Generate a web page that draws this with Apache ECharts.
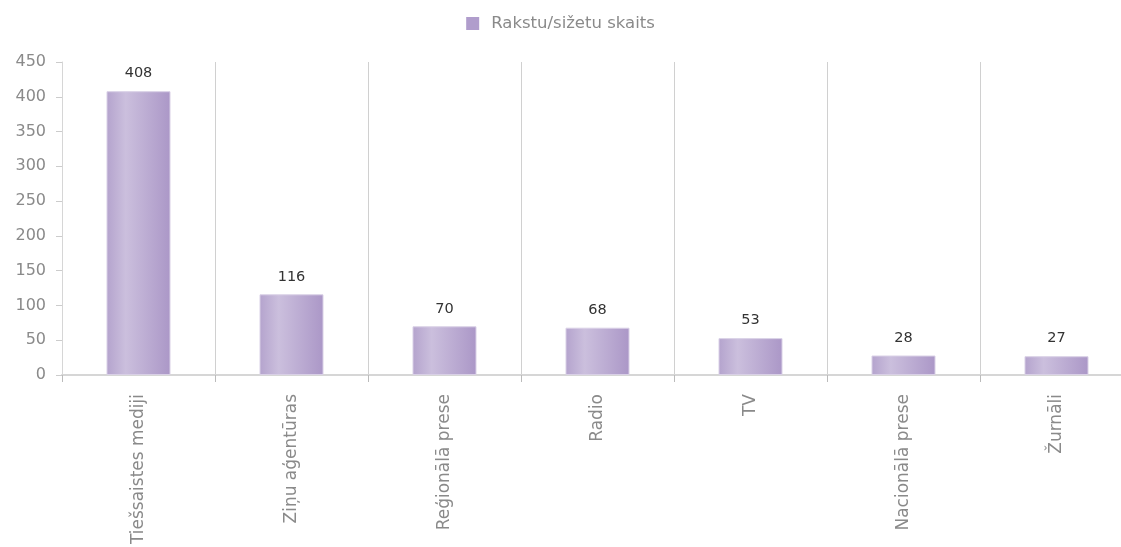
<!DOCTYPE html>
<html>
<head>
<meta charset="utf-8">
<script src="https://cdn.jsdelivr.net/npm/echarts@6/dist/echarts.min.js"></script>
<style>
html,body{margin:0;padding:0;background:#fff;}
#chart{width:1121px;height:547px;}
</style>
</head>
<body>
<div id="chart"></div>
<script>
// dati
var categories = ['Tiešsaistes mediji', 'Ziņu aģentūras', 'Reģionālā prese', 'Radio', 'TV', 'Nacionālā prese', 'Žurnāli']
var values = [408, 116, 70, 68, 53, 28, 27]
var seriesName = 'Rakstu/sižetu skaits'

var FONT = 'DejaVu Sans'
var chart = echarts.init(document.getElementById('chart'))

// bāra krāsa (horizontāls gradients)
var barColor = new echarts.graphic.LinearGradient(0, 0, 1, 0, [
	{ offset: 0, color: '#b4a3cd' },
	{ offset: 0.3, color: '#cbbfdd' },
	{ offset: 1, color: '#ab97c7' }
])

chart.setOption({
	textStyle: { fontFamily: FONT },
	legend: {
		top: 10,
		left: 'center',
		icon: 'rect',
		itemWidth: 13,
		itemHeight: 13,
		itemGap: 10,
		data: [seriesName],
		itemStyle: { color: '#b09dcc', borderWidth: 0 },
		textStyle: { color: '#8a8a8a', fontSize: 16.5, fontFamily: FONT, padding: [0, 0, 0, 7] }
	},
	grid: {
		left: 62,
		top: 62,
		width: 1071,
		height: 313,
		containLabel: false,
		outerBoundsMode: 'none'
	},
	xAxis: {
		type: 'category',
		data: categories,
		axisLine: { lineStyle: { color: '#d6d6d6', width: 2 } },
		axisTick: { show: true, length: 7, lineStyle: { color: '#bbb' } },
		axisLabel: {
			rotate: 90,
			interval: 0,
			margin: 19,
			color: '#8a8a8a',
			fontSize: 17,
			fontFamily: FONT
		},
		splitLine: { show: true, lineStyle: { color: '#d0d0d0' } }
	},
	yAxis: {
		type: 'value',
		min: 0,
		max: 450,
		interval: 50,
		axisLine: { show: true, lineStyle: { color: '#d6d6d6' } },
		axisTick: { show: true, length: 6, lineStyle: { color: '#ccc' } },
		axisLabel: { color: '#8a8a8a', fontSize: 16, margin: 16, fontFamily: FONT },
		splitLine: { show: false }
	},
	series: [{
		name: seriesName,
		type: 'bar',
		data: values,
		barWidth: 64,
		itemStyle: {
			color: barColor,
			borderColor: '#d9d0e6',
			borderWidth: 1
		},
		label: {
			show: true,
			position: 'top',
			distance: 10,
			color: '#333',
			fontSize: 14.5,
			fontFamily: FONT
		}
	}]
})
</script>
</body>
</html>
